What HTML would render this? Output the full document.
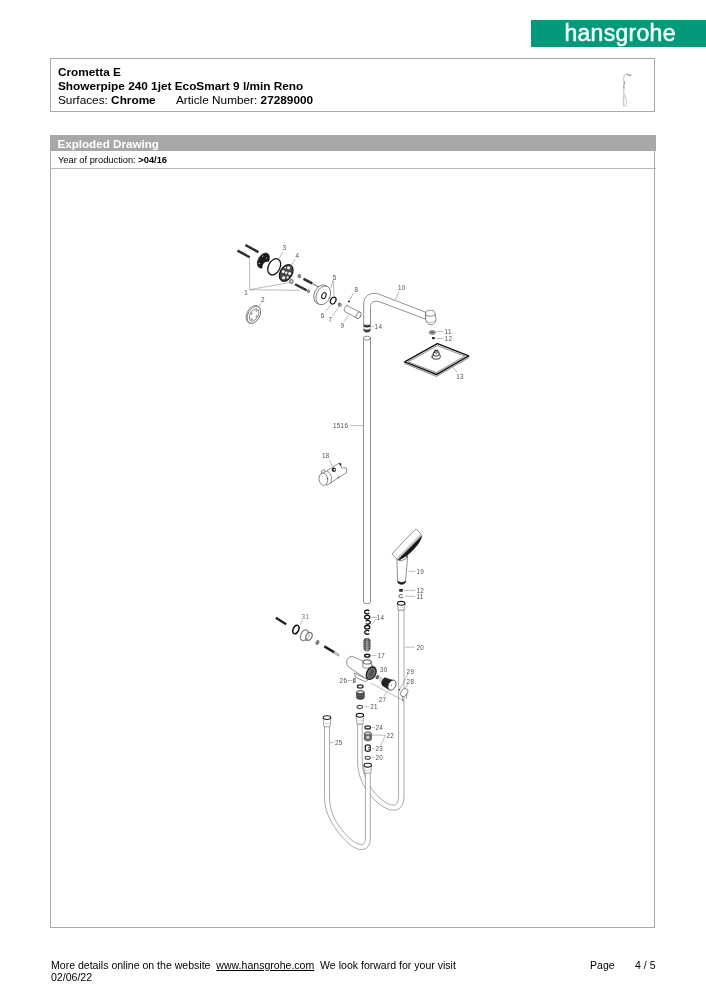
<!DOCTYPE html>
<html lang="en">
<head>
<meta charset="utf-8">
<title>hansgrohe – Crometta E Showerpipe 240 – Exploded Drawing</title>
<style>
html,body{margin:0;padding:0;background:#fff;}
body{width:706px;height:1000px;position:relative;overflow:hidden;font-family:"Liberation Sans",Arial,sans-serif;color:#000;}
.abs{position:absolute;white-space:nowrap;}
.logo{left:531px;top:20px;width:175px;height:27px;background:#03997a;}
.logo span{position:absolute;left:33.4px;top:-0.3px;font-size:23px;line-height:27px;color:#effcf8;letter-spacing:.3px;-webkit-text-stroke:0.55px #effcf8;}
.hbox{left:50px;top:58.1px;width:603.4px;height:52.4px;border:1.2px solid #a9a9a9;}
.t1{font-size:11.8px;line-height:14px;}
.bar{left:50px;top:134.7px;width:605.8px;height:16.3px;background:#a8a8a8;}
.bar span{position:absolute;left:7.4px;top:1.7px;font-size:11.65px;line-height:14px;font-weight:bold;color:#fff;}
.dbox{left:50px;top:151px;width:603.4px;height:775.5px;border:1.2px solid #a9a9a9;border-top:none;}
.yline{left:50px;top:168.4px;width:605.8px;height:1.3px;background:#b8b8b8;}
.yr{left:57.6px;top:154.1px;font-size:9.3px;line-height:12px;}
.ft{font-size:10.55px;line-height:12.2px;}
b{font-weight:bold;}
svg{position:absolute;left:0;top:0;will-change:transform;}
.abs{will-change:transform;}
svg text{font-family:"Liberation Sans",Arial,sans-serif;font-size:6.3px;fill:#505050;letter-spacing:.3px;}
</style>
</head>
<body>
<div class="abs logo"><span>hansgrohe</span></div>

<div class="abs hbox"></div>
<div class="abs t1" style="left:57.5px;top:64.5px;"><b>Crometta E</b></div>
<div class="abs t1" style="left:57.5px;top:78.5px;"><b>Showerpipe 240 1jet EcoSmart 9 l/min Reno</b></div>
<div class="abs t1" style="left:57.5px;top:92.5px;">Surfaces: <b>Chrome</b></div>
<div class="abs t1" style="left:175.5px;top:92.5px;">Article Number: <b>27289000</b></div>

<div class="abs bar"><span>Exploded Drawing</span></div>
<div class="abs dbox"></div>
<div class="abs yr">Year of production: <b>&gt;04/16</b></div>
<div class="abs yline"></div>

<!--DRAWING-START-->
<svg width="706" height="1000" viewBox="0 0 706 1000">
<style>
.o{fill:#fff;stroke:#333;stroke-width:.55;stroke-linejoin:round;stroke-linecap:round}
.n{fill:none;stroke:#333;stroke-width:.55;stroke-linejoin:round;stroke-linecap:round}
.g{fill:#fff;stroke:#777;stroke-width:.8}
.gn{fill:none;stroke:#777;stroke-width:.8}
.l{fill:none;stroke:#555;stroke-width:.4}
.k{fill:#1c1c1c;stroke:#1c1c1c;stroke-width:.5}
.kr{fill:none;stroke:#151515;stroke-width:1.3}
.sc{fill:none;stroke:#222;stroke-width:2.4;stroke-linecap:butt}
.th{fill:none;stroke:#8a8a8a;stroke-width:.8;stroke-dasharray:.5 1.1}
.h{fill:#fff;stroke:#555;stroke-width:.5;stroke-linejoin:round}
</style>

<!-- ============ header thumbnail ============ -->
<g id="thumb" fill="none" stroke="#9a9a9a" stroke-width=".6" stroke-linecap="round">
<path d="M623.8,106.4 V77.4 C623.8,75.6 624.6,75 626,74.4 L628,73.8 L631.2,75.2"/>
<path d="M627.2,74.4 L630.6,75.8" stroke="#777" stroke-width=".8"/>
<path d="M624.6,82 V84" stroke="#888" stroke-width=".9"/>
<path d="M623.9,86 V88.4" stroke="#888" stroke-width=".8"/>
<path d="M624.4,93.6 C625.6,97 626.9,100 626.7,102.6 C626.5,105 625.4,105.6 625.2,106.6" stroke="#aaa"/>
<path d="M624,96.6 C623.2,100 623,103.4 623.6,105.4" stroke="#bbb"/>
</g>
<!-- ============ wall-mount group (1-9) ============ -->
<g id="wallmount">
<line class="sc" x1="245.4" y1="245" x2="258.4" y2="252.1"/><line class="th" x1="245.4" y1="245" x2="258.4" y2="252.1"/>
<line class="sc" x1="237.6" y1="250.6" x2="249.7" y2="257.3"/><line class="th" x1="237.6" y1="250.6" x2="249.7" y2="257.3"/>
<line class="l" x1="249.6" y1="289.7" x2="249.6" y2="258.2"/>
<line class="l" x1="249.6" y1="289.7" x2="290" y2="282.4"/>
<line class="l" x1="249.6" y1="289.7" x2="299.8" y2="290.3"/>
<text x="244.2" y="295.3">1</text>
<!-- dark disc -->
<ellipse class="k" cx="263.4" cy="260.6" rx="5.2" ry="8.3" transform="rotate(30 263.4 260.6)"/>
<path d="M264.6,262.4 C266.2,261.4 268.4,261.6 269.6,263 L267,268.6 L262.4,270 C262,266.8 262.8,263.8 264.6,262.4 Z" fill="#fff"/>
<circle cx="262.6" cy="256.2" r=".6" fill="#ddd"/><circle cx="266.6" cy="258" r=".6" fill="#ddd"/><circle cx="259.6" cy="263.4" r=".6" fill="#ddd"/>
<!-- o-ring 3 -->
<ellipse class="kr" cx="274.2" cy="266.8" rx="5.8" ry="8.6" transform="rotate(28 274.2 266.8)"/>
<line class="l" x1="282.8" y1="251.3" x2="279.2" y2="258.8"/>
<text x="282.6" y="250.4">3</text>
<!-- part 4 -->
<ellipse cx="286.2" cy="273" rx="6" ry="9" transform="rotate(30 286.2 273)" fill="#4a4a4a" stroke="#1c1c1c" stroke-width="1.3"/>
<g fill="#f4f4f4"><circle cx="288.6" cy="267.8" r="1.6"/><circle cx="283.2" cy="271.4" r="1.5"/><circle cx="289.6" cy="273.4" r="1.5"/><circle cx="283.6" cy="277.8" r="1.5"/><circle cx="286.2" cy="272.8" r="1.2"/><circle cx="287.6" cy="277.4" r="1.1"/><circle cx="285.2" cy="267.6" r=".9"/></g>
<line class="l" x1="295.5" y1="258.9" x2="290.4" y2="266.4"/>
<text x="295.4" y="258">4</text>
<!-- washer + nut -->
<ellipse cx="299.3" cy="276.1" rx="1.5" ry="1.9" fill="#8a8a8a" stroke="#555" stroke-width=".5"/>
<ellipse cx="291.4" cy="281.5" rx="1.7" ry="2.1" fill="#ccc" stroke="#555" stroke-width=".9"/>
<!-- screws C, D -->
<line class="sc" x1="303.5" y1="278.9" x2="312.2" y2="283.4"/><line class="th" x1="303.5" y1="278.9" x2="312.2" y2="283.4"/>
<line x1="312.2" y1="283.4" x2="319.2" y2="287.2" stroke="#777" stroke-width="1.1"/>
<line class="sc" x1="295" y1="284.3" x2="306.6" y2="290.2"/><line class="th" x1="295" y1="284.3" x2="306.6" y2="290.2"/>
<ellipse cx="308.4" cy="291.2" rx="1.3" ry="1.6" fill="#999" stroke="#555" stroke-width=".5"/>
<!-- part 2 -->
<g transform="rotate(28 253.3 314.5)">
<ellipse class="g" cx="253.3" cy="314.5" rx="6.4" ry="9.6"/>
<ellipse class="g" cx="254" cy="314.5" rx="5.9" ry="9.1"/>
<ellipse class="g" cx="254.2" cy="314.5" rx="4" ry="6.7"/>
<circle class="gn" cx="254.2" cy="309.6" r=".7"/><circle class="gn" cx="254.2" cy="319.4" r=".7"/><circle class="gn" cx="256.9" cy="314.5" r=".6"/><circle class="gn" cx="251.6" cy="314.5" r=".6"/>
</g>
<line class="l" x1="261.7" y1="302.8" x2="258.3" y2="306.6"/>
<text x="260.9" y="302.4">2</text>
<!-- disc 5 -->
<g transform="rotate(24 322.6 294.6)">
<ellipse class="o" cx="321.4" cy="295" rx="7" ry="10"/>
<ellipse class="o" cx="323.6" cy="295" rx="6.8" ry="9.8"/>
<ellipse class="n" cx="324.2" cy="295" rx="2" ry="3.2" style="stroke:#222;stroke-width:1.1"/>

</g>
<line class="l" x1="333.2" y1="280.3" x2="330.4" y2="288.6"/>
<line class="l" x1="333.2" y1="280.3" x2="334" y2="296.6"/>
<text x="332.8" y="279.6">5</text>
<!-- o-ring 6 -->
<ellipse class="kr" cx="333.2" cy="300.6" rx="2.5" ry="3.6" transform="rotate(28 333.2 300.6)" stroke-width="1.1"/>
<line class="l" x1="325.6" y1="311.5" x2="331.3" y2="304.3"/>
<text x="320.8" y="317.6">6</text>
<!-- part 7 -->
<ellipse cx="339.6" cy="304.6" rx="1.3" ry="1.8" fill="#777" stroke="#444" stroke-width=".5"/>
<ellipse cx="341" cy="305.3" rx=".9" ry="1.3" fill="#ddd" stroke="#666" stroke-width=".4"/>
<line class="l" x1="332.4" y1="315.8" x2="339" y2="306.8"/>
<text x="328.5" y="321.9">7</text>
<!-- dot 8 -->
<circle cx="349" cy="301.4" r=".95" fill="#111"/>
<line class="l" x1="353.4" y1="293" x2="349.6" y2="300.2"/>
<text x="354.4" y="292.4">8</text>
<!-- tube 9 -->
<path class="o" d="M346.9,305.6 L359.7,312.1 A2.4,3.6 28 0 1 357.6,318.5 L344.6,311.4 A2.4,3.6 28 0 1 346.9,305.6 Z"/>
<ellipse class="o" cx="358.6" cy="315.3" rx="2.2" ry="3.6" transform="rotate(28 358.6 315.3)"/>
<line class="l" x1="343.9" y1="321.6" x2="349.3" y2="314.5"/>
<text x="340.6" y="327.8">9</text>
</g>

<!-- ============ shower arm 10 ============ -->
<g id="arm">
<path class="o" d="M363.7,324.6 V304 C363.7,297.2 368.2,293.3 374.6,293.3 C377.2,293.3 378.6,294 381,295 L425.6,312.2 L425.6,319.1 L380.6,302.2 C378.8,301.5 377.6,301.2 376.4,301.2 C372.6,301.2 370.5,303.2 370.5,307.2 V324.6 Z"/>
<!-- ball joint -->
<path class="o" d="M425.7,312.4 C425.7,310.8 428.2,310.3 430.2,310.3 C432.6,310.3 434.7,310.9 434.8,312.6 L435.9,318.6 C436.1,321.6 434.4,324.7 431,324.7 C428.6,324.7 426.7,323.4 426.3,321.2 L425.7,318.8 Z"/>
<path class="n" d="M425.8,315.2 C428,316.8 432.8,316.6 435.3,315"/>
<path class="n" d="M426.5,321.4 C429,323 433.2,322.6 435.5,320.6" style="stroke:#777;stroke-width:.5"/>
<line class="l" x1="395.6" y1="299.8" x2="398.8" y2="291.6"/>
<text x="398" y="290.2">10</text>
<!-- connector 14 (top) -->
<path d="M363.5,324.8 Q367,326.4 370.6,324.8 V326.6 Q367,328.4 363.5,326.6 Z" fill="#222"/>
<path class="n" d="M363.6,326.8 V329.4 M370.5,326.8 V329.4" style="stroke:#888;stroke-width:.5"/>
<path d="M363.6,328.8 Q367,330.6 370.5,328.8 V330.8 Q369.6,332.6 367,332.6 Q364.4,332.6 363.6,330.8 Z" fill="#2a2a2a"/>
<path d="M364,330.6 Q367,332 370.2,330.6" stroke="#999" stroke-width=".4" fill="none"/>
<line class="l" x1="371.4" y1="326.8" x2="374.2" y2="326.8"/>
<text x="374.6" y="328.5">14</text>
</g>

<!-- ============ riser pipe 15/16 ============ -->
<g id="riser">
<path class="o" d="M363.5,338.2 V601.6 A3.5,2.2 0 0 0 370.5,601.6 V338.2 Z"/>
<ellipse class="o" cx="367" cy="338.2" rx="3.5" ry="2"/>
<line class="l" x1="350.6" y1="425.6" x2="362.8" y2="425.6"/>
<text x="333" y="428">1516</text>
</g>

<!-- ============ 11 / 12 (top) + head shower 13 ============ -->
<g id="headshower">
<ellipse cx="432.3" cy="332.4" rx="3.1" ry="1.9" fill="#9a9a9a" stroke="#555" stroke-width=".6"/>
<ellipse cx="432.3" cy="332.3" rx="1.5" ry=".8" fill="#555"/>
<line class="l" x1="436.3" y1="331.4" x2="443.4" y2="331.4"/>
<text x="444.6" y="333.8">11</text>
<ellipse cx="433.4" cy="338.1" rx="1.5" ry="1.2" fill="#111"/>
<line class="l" x1="436.3" y1="338.4" x2="443.4" y2="338.4"/>
<text x="444.6" y="340.9">12</text>
<!-- plate -->
<path d="M404.6,361.8 L437.4,343.5 L468.8,355.9 L468.8,357.6 L436.5,376.4 L404.6,363.4 Z" fill="#fff" stroke="#333" stroke-width=".6" stroke-linejoin="round"/>
<path d="M404.8,361.8 L437.4,343.6 L468.6,355.9 L436.5,374.5 Z" fill="#fff" stroke="#1a1a1a" stroke-width="1.45" stroke-linejoin="round"/>
<path class="n" d="M408.6,361.7 L437.3,345.7 L464.8,356.1 L436.6,372.4 Z" stroke-width=".3" stroke="#999"/>
<!-- hub --><g transform="translate(0.6 2)" style="stroke-width:.8">
<path class="o" d="M431.6,355.6 v-2.2 a4,1.6 0 0 1 8,0 v2.2 a4,1.6 0 0 1 -8,0 z" style="stroke-width:.9;stroke:#222"/>
<path class="o" d="M432.8,353 v-2.4 a2.8,1.1 0 0 1 5.6,0 v2.4 a2.8,1.1 0 0 1 -5.6,0 z" style="stroke-width:.9;stroke:#222"/>
<path class="o" d="M433.8,350.4 v-1.6 a1.8,.8 0 0 1 3.6,0 v1.6 a1.8,.8 0 0 1 -3.6,0 z" style="stroke-width:.9;stroke:#222"/>
<ellipse cx="435.6" cy="348.8" rx="1.8" ry=".9" fill="#444"/></g>
<line class="l" x1="452.8" y1="367.6" x2="457" y2="372"/>
<text x="456.2" y="378.6">13</text>
</g>

<!-- ============ slider 18 ============ -->
<g id="slider">
<path class="o" d="M321.4,474.2 L338.6,463.4 L340.8,463.2 L341.4,467.6 C342.2,468.8 343.4,468.6 343.8,467.4 L346.6,468.4 L346.8,472.4 L327.4,485 Z"/>
<ellipse class="o" cx="323.4" cy="479.2" rx="4.3" ry="6.2" transform="rotate(-8 323.4 479.2)"/>
<path class="n" d="M327.6,471.4 C331.6,473.6 332.8,479.6 330.8,483"/>
<path class="n" d="M321.6,473.6 L321.4,471.2 L324.4,469.6 L325.2,471.6"/>
<ellipse cx="333.9" cy="469.7" rx="2.1" ry="2.2" fill="#222"/>
<ellipse cx="334.4" cy="469.8" rx=".9" ry="1.1" fill="#ddd"/>
<path d="M338.6,463.4 L340.8,463.2 L341.2,466.4 Z" fill="#222"/>
<ellipse cx="338.4" cy="477.2" rx="1" ry=".4" fill="#222" transform="rotate(-30 338.4 477.2)"/>
<line class="l" x1="329.2" y1="460.3" x2="332.6" y2="466.4"/>
<text x="322" y="458.2">18</text>
</g>

<!--P2S-->
<!-- ============ hand shower 19 ============ -->
<g id="handshower">
<!-- handle -->
<path class="o" d="M396.9,558.6 L397.6,580.6 C398.6,583.4 404.6,583.4 405.6,580.6 L407.7,555.4 Z"/>
<path d="M397.6,580.8 C398.8,583 404.4,583 405.6,580.8 L405.5,582.6 C404.2,585 399,585 397.7,582.6 Z" fill="#1a1a1a" stroke="#1a1a1a" stroke-width=".4"/>
<ellipse class="o" cx="402.6" cy="558" rx="4.6" ry="2.2" transform="rotate(-20 402.6 558)"/>
<!-- head -->
<path class="o" d="M392.2,553.9 Q403.4,540.6 414.8,530 C415.6,529.3 416.6,529.3 417.3,530 L421.2,534.6 C421.9,535.6 421.8,536.6 421.4,537.4 C419.6,543.4 411.4,553.6 399.6,559.8 C398.6,560.2 397.8,560 397.2,559.4 Z"/>
<path d="M398.1,559.3 L421.3,536 C421.6,536.4 421.6,537 421.4,537.4 C419.6,543.4 411.4,553.6 399.6,559.8 C399,560 398.5,559.8 398.1,559.3 Z" fill="#161616" stroke="#161616" stroke-width=".3"/>
<path d="M399,558.9 L420.9,537" stroke="#9a9a9a" stroke-width="1" stroke-dasharray=".55 .75" fill="none"/>
<path d="M397,558.3 L420.4,534.6" stroke="#666" stroke-width=".5" fill="none"/>
<path d="M397.7,558.9 L420.9,535.4" stroke="#888" stroke-width=".4" fill="none"/>
<line class="l" x1="408.2" y1="571.3" x2="415.4" y2="571.3"/>
<text x="416.4" y="573.6">19</text>
<!-- 12 / 11 -->
<rect x="399.1" y="588.9" width="3.8" height="2.9" rx=".8" fill="#1c1c1c"/>
<line x1="399.4" y1="590.3" x2="402.6" y2="590.3" stroke="#888" stroke-width=".4"/>
<line class="l" x1="404.2" y1="590.4" x2="415.2" y2="590.4"/>
<text x="416.4" y="592.8">12</text>
<path d="M402.8,595 C400.6,594.2 398.9,594.8 398.9,596.2 C398.9,597.6 400.8,598.2 403.2,597.4" fill="none" stroke="#333" stroke-width=".8"/>
<line class="l" x1="405" y1="596.3" x2="415.2" y2="596.3"/>
<text x="416.4" y="598.7">11</text>
</g>

<!-- ============ hose 20 (hand-shower hose) ============ -->
<g id="hose20">
<path class="h" d="M357.6,724 V762 C357.8,775 362.4,785 370.2,795 C377.6,804.2 386.6,810.2 393.8,810.2 C400.4,810.2 404,804.6 404,796 V610 H398.6 V795.4 C398.6,801.6 397,805.2 393.6,805.2 C388.4,805.2 380.4,799.6 373.8,791.8 C367.2,783.6 362.4,773 362.2,762 V724 Z"/>
<!-- top connector (hand shower end) -->
<path class="o" d="M397.2,603.4 L397.9,610 H404.5 L405.2,603.4 Z" style="stroke:#666"/>
<ellipse cx="401.2" cy="603.3" rx="3.7" ry="1.9" fill="#fff" stroke="#1a1a1a" stroke-width="1.1"/>
<path class="n" d="M398,607.2 C399,608.2 403.4,608.2 404.4,607.2" style="stroke:#aaa;stroke-width:.5"/>
<line class="l" x1="404.8" y1="647.2" x2="414.8" y2="647.2"/>
<text x="416.4" y="649.6">20</text>
</g>

<!-- ============ sealing rings 14, filter, 17 ============ -->
<g id="rings14">
<g fill="none" stroke="#151515" stroke-width="1.35" stroke-linecap="butt">
<path d="M369.25,610.89 A2.6,1.8 0 1 0 369.25,613.11"/>
<ellipse cx="367.2" cy="617.15" rx="2.6" ry="1.8"/>
<path d="M365.75,621.19 A2.6,1.8 0 1 1 365.75,623.41"/>
<ellipse cx="367.2" cy="627.3" rx="2.6" ry="1.8"/>
<path d="M369.25,631.19 A2.6,1.8 0 1 0 369.25,633.41"/>
</g>
<line class="l" x1="372" y1="617.4" x2="376.6" y2="617.4"/>
<line class="l" x1="371.8" y1="624.4" x2="376.6" y2="618.4"/>
<text x="376.8" y="619.6">14</text>
<!-- filter -->
<path d="M363.8,640.4 C363.8,637.6 370.2,637.6 370.2,640.4 V648.8 C370.2,651.8 363.8,651.8 363.8,648.8 Z" fill="#505050" stroke="#333" stroke-width=".5"/>
<rect x="366" y="638.6" width="2.2" height="12.6" fill="#b0b0b0" opacity=".55"/>
<g stroke="#bdbdbd" stroke-width=".45" fill="none"><path d="M364,641.4 q3,1.4 6,0"/><path d="M364,643.4 q3,1.4 6,0"/><path d="M364,645.4 q3,1.4 6,0"/><path d="M364,647.4 q3,1.4 6,0"/><path d="M364,649.2 q3,1.4 6,0"/></g>
<!-- 17 -->
<ellipse cx="367.2" cy="655.7" rx="2.6" ry="1.4" fill="#fff" stroke="#151515" stroke-width="1.4"/>
<line class="l" x1="371.4" y1="655.6" x2="376.4" y2="655.6"/>
<text x="377.4" y="658.1">17</text>
</g>

<!-- ============ part 31 group ============ -->
<g id="g31">
<line class="sc" x1="275.8" y1="617.8" x2="286.2" y2="624.2" stroke-width="2.1"/>
<ellipse cx="295.9" cy="629.5" rx="2.7" ry="4.5" fill="none" stroke="#111" stroke-width="1.5" transform="rotate(24 295.9 629.5)"/>
<g fill="#fff" stroke="#858585" stroke-width="1.3">
<path d="M303.6,630 L308.6,632.6 L306.4,640.6 L302.4,640.2 Z" stroke-width=".7"/>
<ellipse cx="304.4" cy="635.2" rx="3.5" ry="5.6" transform="rotate(24 304.4 635.2)"/>
<ellipse cx="309" cy="636.4" rx="2.9" ry="4.1" transform="rotate(24 309 636.4)" stroke="#777"/>
<ellipse cx="307.4" cy="636.2" rx="1.6" ry="3" transform="rotate(24 307.4 636.2)" stroke="#999" stroke-width=".8" fill="none"/>
</g>
<ellipse cx="317.5" cy="642.4" rx="1.5" ry="2.3" fill="#888" stroke="#555" stroke-width=".5" transform="rotate(24 317.3 642.3)"/>
<line class="sc" x1="324.3" y1="646.4" x2="334.4" y2="652.4" stroke-width="1.8"/>
<path d="M334.4,651.6 L339.2,654.4 L338.6,656.2 L333.6,653.2 Z" fill="#ddd" stroke="#555" stroke-width=".5"/>
<text x="301.6" y="619.4" style="fill:#707070">31</text>
<line class="l" x1="302.4" y1="620.4" x2="300.4" y2="624.4" stroke="#aaa"/>
</g>

<!-- ============ valve body + 26..30 ============ -->
<g id="valve">
<!-- axis line -->
<line class="l" x1="370.6" y1="682.9" x2="404" y2="701" stroke="#444"/>
<!-- lower bracket -->
<path class="o" d="M354.6,673.6 L355.2,677 L365.4,681.8 L368,680 Z"/>
<!-- body -->
<path class="o" d="M352.3,656.5 C349,655.9 346.3,659.2 346.7,663.2 C347,665.4 347.8,666.6 349.2,667.4 L366.4,679 L375.6,668 L371.8,665 Z"/>
<!-- stub -->
<path class="o" d="M362.8,661.9 V667.2 C364.6,668.8 369.6,668.6 371.6,666.4 V662.3 Z"/>
<ellipse cx="367.2" cy="661.9" rx="4" ry="2.1" fill="#fff" stroke="#777" stroke-width="1.2"/>
<!-- ring 30 -->
<ellipse cx="371.2" cy="673.2" rx="4.4" ry="6.6" fill="#777" stroke="#1a1a1a" stroke-width="1.3" transform="rotate(28 371.2 673.2)"/>
<ellipse cx="371.4" cy="673.3" rx="2.7" ry="4.8" fill="#555" stroke="#999" stroke-width=".5" stroke-dasharray=".6 .6" transform="rotate(28 371.4 673.3)"/>
<text x="380" y="671.8">30</text>
<!-- washer -->
<ellipse cx="377.4" cy="677.2" rx="1.4" ry="1.8" fill="#777" stroke="#333" stroke-width=".6" transform="rotate(28 377.4 677.2)"/>
<!-- knob 27 -->
<path d="M380.4,677.4 L383.8,679 L382.4,682.4 L379.6,680.8 Z" fill="#e4e4e4" stroke="#999" stroke-width=".5"/>
<path d="M384.6,677.8 L393.4,680.4 L389.6,690.2 L382.4,685.4 Z" fill="#222" stroke="#222" stroke-width=".6" stroke-linejoin="round"/>
<ellipse cx="384.2" cy="681.6" rx="2.4" ry="4" fill="#222" transform="rotate(28 384.2 681.6)"/>
<ellipse cx="392" cy="685.2" rx="3.6" ry="5.4" fill="#fff" stroke="#333" stroke-width=".7" transform="rotate(28 392 685.2)"/>
<circle cx="391.4" cy="685.2" r=".5" fill="#333"/>
<line class="l" x1="387" y1="691.6" x2="383.8" y2="696.2"/>
<text x="378.8" y="701.8">27</text>
<!-- 29 / 28 -->
<line class="l" x1="408" y1="674.4" x2="399.8" y2="689"/>
<text x="406.6" y="674">29</text>
<line class="l" x1="408" y1="684" x2="405.4" y2="688.4"/>
<text x="406.6" y="684.2">28</text>
<circle cx="399.5" cy="689.8" r=".8" fill="#222"/>
<path class="n" d="M402.4,695.6 L402.8,701 M406.6,694.2 L406.4,698.4"/>
<ellipse class="o" cx="404.2" cy="692.6" rx="3.1" ry="4.4" transform="rotate(35 404.2 692.6)"/>
<!-- 26 -->
<text x="339.6" y="683">26</text>
<line class="l" x1="347.6" y1="680.6" x2="352" y2="680.6"/>
<path d="M353.4,678.6 h1.8 v4 h-1.8 z" fill="#ccc" stroke="#333" stroke-width=".6"/>
<!-- ring, fitting, 21 -->
<ellipse cx="360.2" cy="686.5" rx="2.8" ry="1.6" fill="#fff" stroke="#222" stroke-width="1.3"/>
<path d="M356.4,692.4 C356.4,690 364.4,690 364.4,692.4 V697.6 C364.4,700 356.4,700 356.4,697.6 Z" fill="#3c3c3c" stroke="#333" stroke-width=".5"/>
<ellipse cx="360.4" cy="692.2" rx="3.2" ry="1.4" fill="#ddd" stroke="#444" stroke-width=".5"/>
<g stroke="#aaa" stroke-width=".4" fill="none"><path d="M356.6,695 q3.8,1.4 7.6,0"/><path d="M356.6,696.8 q3.8,1.4 7.6,0"/></g>
<ellipse cx="359.8" cy="707" rx="2.8" ry="1.6" fill="#fff" stroke="#555" stroke-width="1.1"/>
<line class="l" x1="364.6" y1="706.8" x2="369.4" y2="706.8"/>
<text x="370.2" y="709.3">21</text>
</g>

<!-- ============ hose from valve (connector) ============ -->
<g id="hoseValveConn">
<path class="o" d="M356,715.6 L356.8,723.8 H363 L363.8,715.6 Z" style="stroke:#666"/>
<ellipse cx="359.9" cy="715.3" rx="3.7" ry="1.9" fill="#fff" stroke="#1a1a1a" stroke-width="1.1"/>
<path class="n" d="M356.7,720.4 C357.7,721.4 362.1,721.4 363.1,720.4" style="stroke:#aaa;stroke-width:.5"/>
</g>

<!-- ============ hose 25 ============ -->
<g id="hose25">
<path class="h" d="M324.5,726 V796 C324.5,808 328,816.4 333,824.6 C339.6,835.4 349,845.6 356.6,848.6 C364.4,851.6 370.3,847.4 370.3,839 V772.6 H365.4 V838.4 C365.4,843.4 362.6,845.6 358.4,844.2 C351.6,841.6 343,832.6 336.8,822.6 C332.4,815.2 329.5,807 329.5,796 V726 Z"/>
<path class="o" d="M323,718 L323.9,726.8 H330.1 L331,718 Z" style="stroke:#666"/>
<ellipse cx="327" cy="717.6" rx="3.7" ry="1.9" fill="#fff" stroke="#1a1a1a" stroke-width="1.1"/>
<path class="n" d="M323.8,723.4 C324.8,724.4 329.2,724.4 330.2,723.4" style="stroke:#aaa;stroke-width:.5"/>
<line class="l" x1="330" y1="742.6" x2="334.2" y2="742.6"/>
<text x="335" y="745.1">25</text>
<!-- lower connector (near 20) -->
<path class="o" d="M363.7,765.6 L364.6,773 H370.8 L371.7,765.6 Z" style="stroke:#666"/>
<ellipse cx="367.7" cy="765.2" rx="3.7" ry="1.9" fill="#fff" stroke="#1a1a1a" stroke-width="1.1"/>
<path class="n" d="M364.5,770 C365.5,771 369.9,771 370.9,770" style="stroke:#aaa;stroke-width:.5"/>
</g>

<!-- ============ 24 / 22 / 23 / 20 ============ -->
<g id="smallparts">
<ellipse cx="367.7" cy="727.4" rx="2.8" ry="1.6" fill="#fff" stroke="#222" stroke-width="1.3"/>
<line class="l" x1="372" y1="727.6" x2="374.8" y2="727.6"/>
<text x="375.4" y="730.1">24</text>
<path d="M364.4,733.6 C364.4,731.4 371.4,731.4 371.4,733.6 V739 C371.4,741.4 364.4,741.4 364.4,739 Z" fill="#6a6a6a" stroke="#333" stroke-width=".6"/>
<ellipse cx="367.9" cy="733.4" rx="3.1" ry="1.3" fill="#ddd" stroke="#333" stroke-width=".6"/>
<path d="M366,735.6 h3.8 v3.6 h-3.8 z" fill="#ccc" stroke="#444" stroke-width=".4"/>
<line class="l" x1="372" y1="735.2" x2="385.4" y2="735.2"/>
<line class="l" x1="385.4" y1="735.2" x2="380.6" y2="746"/>
<text x="386.4" y="738">22</text>
<path d="M365.3,746.4 C365.3,744.4 370.3,744.4 370.3,746.4 V749.8 C370.3,751.8 365.3,751.8 365.3,749.8 Z" fill="#fff" stroke="#222" stroke-width="1.3"/>
<path d="M368,747.6 h2.2 v1.6 h-2.2" stroke="#333" stroke-width=".7" fill="#fff"/>
<line class="l" x1="372" y1="748.8" x2="374.8" y2="748.8"/>
<text x="375.4" y="751.3">23</text>
<ellipse cx="367.8" cy="757.8" rx="2.6" ry="1.6" fill="#fff" stroke="#4a4a4a" stroke-width="1.1"/>
<line class="l" x1="372" y1="757.6" x2="374.8" y2="757.6"/>
<text x="375.4" y="760.1">20</text>
</g>

<!--P2E-->
</svg>

<!--DRAWING-END-->

<div class="abs ft" style="left:50.6px;top:959.2px;">More details online on the website&nbsp; <u>www.hansgrohe.com</u>&nbsp; We look forward for your visit</div>
<div class="abs ft" style="left:50.6px;top:971.4px;">02/06/22</div>
<div class="abs ft" style="left:590.4px;top:959.2px;">Page</div>
<div class="abs ft" style="left:635.2px;top:959.2px;">4 / 5</div>
</body>
</html>
